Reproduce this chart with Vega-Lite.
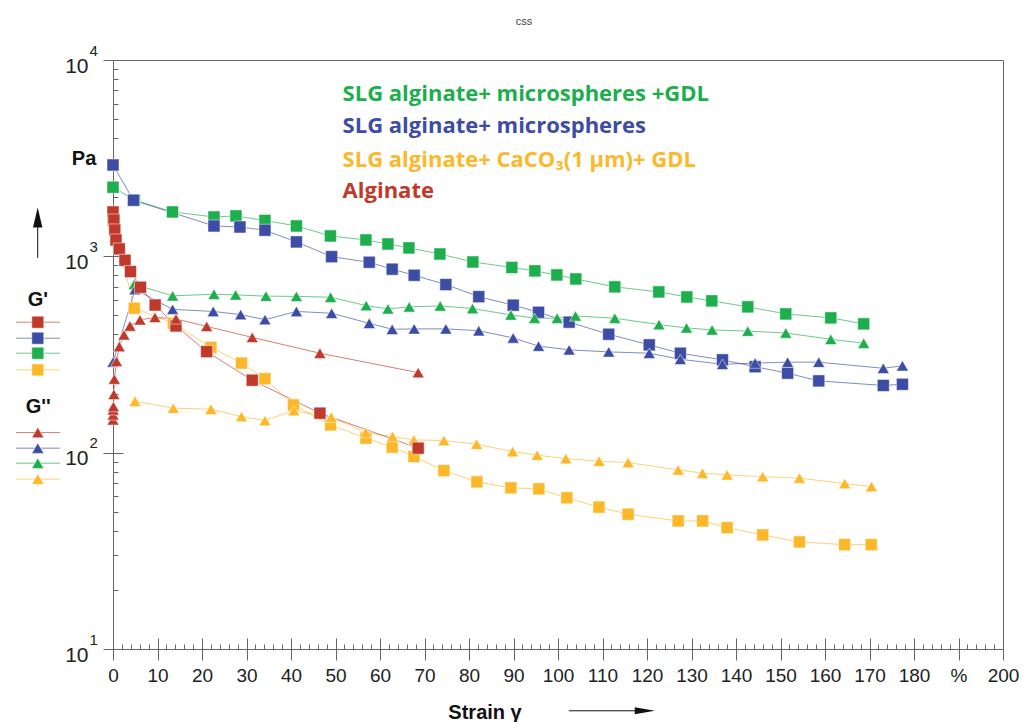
{
  "$schema": "https://vega.github.io/schema/vega-lite/v6.json",
  "width": 890,
  "height": 589,
  "autosize": {"type": "none"},
  "padding": {"left": 113, "top": 60, "right": 31, "bottom": 73},
  "background": "white",
  "title": {"text": "css", "fontSize": 11, "font": "Liberation Sans", "fontWeight": "normal", "color": "#444", "anchor": "middle", "frame": "group", "dx": -34, "offset": 7, "baseline": "alphabetic"},
  "config": {
    "view": {"stroke": "#666", "strokeWidth": 1},
    "axis": {"domainColor": "#666", "tickColor": "#666", "grid": false, "title": null, "labelFont": "Liberation Sans", "labelColor": "#222", "labelFlush": false, "labelOverlap": false, "labelBound": false, "domainWidth": 1, "tickWidth": 1}
  },
  "datasets": {
    "main": [
      {"s": "SLG+micro+GDL", "k": "G'", "x": 0, "y": 2249}, {"s": "SLG+micro+GDL", "k": "G'", "x": 4.83, "y": 1937}, {"s": "SLG+micro+GDL", "k": "G'", "x": 13.37, "y": 1683}, {"s": "SLG+micro+GDL", "k": "G'", "x": 22.69, "y": 1587}, {"s": "SLG+micro+GDL", "k": "G'", "x": 27.63, "y": 1606}, {"s": "SLG+micro+GDL", "k": "G'", "x": 34.15, "y": 1523}, {"s": "SLG+micro+GDL", "k": "G'", "x": 41.22, "y": 1428}, {"s": "SLG+micro+GDL", "k": "G'", "x": 48.86, "y": 1270}, {"s": "SLG+micro+GDL", "k": "G'", "x": 56.83, "y": 1212}, {"s": "SLG+micro+GDL", "k": "G'", "x": 61.78, "y": 1156}, {"s": "SLG+micro+GDL", "k": "G'", "x": 66.5, "y": 1104}, {"s": "SLG+micro+GDL", "k": "G'", "x": 73.46, "y": 1028}, {"s": "SLG+micro+GDL", "k": "G'", "x": 80.87, "y": 936}, {"s": "SLG+micro+GDL", "k": "G'", "x": 89.63, "y": 878}, {"s": "SLG+micro+GDL", "k": "G'", "x": 94.8, "y": 843}, {"s": "SLG+micro+GDL", "k": "G'", "x": 99.74, "y": 804}, {"s": "SLG+micro+GDL", "k": "G'", "x": 104.0, "y": 767}, {"s": "SLG+micro+GDL", "k": "G'", "x": 112.77, "y": 699}, {"s": "SLG+micro+GDL", "k": "G'", "x": 122.65, "y": 659}, {"s": "SLG+micro+GDL", "k": "G'", "x": 128.95, "y": 621}, {"s": "SLG+micro+GDL", "k": "G'", "x": 134.56, "y": 593}, {"s": "SLG+micro+GDL", "k": "G'", "x": 142.65, "y": 553}, {"s": "SLG+micro+GDL", "k": "G'", "x": 151.18, "y": 509}, {"s": "SLG+micro+GDL", "k": "G'", "x": 161.3, "y": 486}, {"s": "SLG+micro+GDL", "k": "G'", "x": 168.7, "y": 453},

      {"s": "SLG+micro", "k": "G'", "x": 0, "y": 2920}, {"s": "SLG+micro", "k": "G'", "x": 4.6, "y": 1930}, {"s": "SLG+micro", "k": "G'", "x": 22.69, "y": 1428}, {"s": "SLG+micro", "k": "G'", "x": 28.53, "y": 1411}, {"s": "SLG+micro", "k": "G'", "x": 34.15, "y": 1358}, {"s": "SLG+micro", "k": "G'", "x": 41.22, "y": 1184}, {"s": "SLG+micro", "k": "G'", "x": 49.13, "y": 996}, {"s": "SLG+micro", "k": "G'", "x": 57.58, "y": 933}, {"s": "SLG+micro", "k": "G'", "x": 62.74, "y": 860}, {"s": "SLG+micro", "k": "G'", "x": 67.68, "y": 801}, {"s": "SLG+micro", "k": "G'", "x": 74.8, "y": 718}, {"s": "SLG+micro", "k": "G'", "x": 82.2, "y": 623}, {"s": "SLG+micro", "k": "G'", "x": 89.93, "y": 564}, {"s": "SLG+micro", "k": "G'", "x": 95.63, "y": 519}, {"s": "SLG+micro", "k": "G'", "x": 102.5, "y": 462}, {"s": "SLG+micro", "k": "G'", "x": 111.4, "y": 401}, {"s": "SLG+micro", "k": "G'", "x": 120.5, "y": 354}, {"s": "SLG+micro", "k": "G'", "x": 127.5, "y": 321}, {"s": "SLG+micro", "k": "G'", "x": 136.96, "y": 297}, {"s": "SLG+micro", "k": "G'", "x": 144.3, "y": 274}, {"s": "SLG+micro", "k": "G'", "x": 151.6, "y": 254}, {"s": "SLG+micro", "k": "G'", "x": 158.6, "y": 232}, {"s": "SLG+micro", "k": "G'", "x": 173.1, "y": 220}, {"s": "SLG+micro", "k": "G'", "x": 177.4, "y": 223},

      {"s": "SLG+micro+GDL", "k": "G''", "x": 4.78, "y": 721}, {"s": "SLG+micro+GDL", "k": "G''", "x": 13.41, "y": 629}, {"s": "SLG+micro+GDL", "k": "G''", "x": 22.69, "y": 641}, {"s": "SLG+micro+GDL", "k": "G''", "x": 27.56, "y": 636}, {"s": "SLG+micro+GDL", "k": "G''", "x": 34.37, "y": 627}, {"s": "SLG+micro+GDL", "k": "G''", "x": 41.22, "y": 625}, {"s": "SLG+micro+GDL", "k": "G''", "x": 48.9, "y": 619}, {"s": "SLG+micro+GDL", "k": "G''", "x": 56.9, "y": 561}, {"s": "SLG+micro+GDL", "k": "G''", "x": 61.78, "y": 540}, {"s": "SLG+micro+GDL", "k": "G''", "x": 66.56, "y": 553}, {"s": "SLG+micro+GDL", "k": "G''", "x": 73.53, "y": 559}, {"s": "SLG+micro+GDL", "k": "G''", "x": 80.8, "y": 542}, {"s": "SLG+micro+GDL", "k": "G''", "x": 89.41, "y": 503}, {"s": "SLG+micro+GDL", "k": "G''", "x": 94.73, "y": 484}, {"s": "SLG+micro+GDL", "k": "G''", "x": 99.81, "y": 484}, {"s": "SLG+micro+GDL", "k": "G''", "x": 103.94, "y": 497}, {"s": "SLG+micro+GDL", "k": "G''", "x": 112.77, "y": 484}, {"s": "SLG+micro+GDL", "k": "G''", "x": 122.7, "y": 449}, {"s": "SLG+micro+GDL", "k": "G''", "x": 128.88, "y": 432}, {"s": "SLG+micro+GDL", "k": "G''", "x": 134.63, "y": 422}, {"s": "SLG+micro+GDL", "k": "G''", "x": 142.65, "y": 416}, {"s": "SLG+micro+GDL", "k": "G''", "x": 151.19, "y": 407}, {"s": "SLG+micro+GDL", "k": "G''", "x": 161.3, "y": 378}, {"s": "SLG+micro+GDL", "k": "G''", "x": 168.7, "y": 361},

      {"s": "SLG+micro", "k": "G''", "x": 0, "y": 289}, {"s": "SLG+micro", "k": "G''", "x": 4.94, "y": 678}, {"s": "SLG+micro", "k": "G''", "x": 13.41, "y": 537}, {"s": "SLG+micro", "k": "G''", "x": 22.53, "y": 524}, {"s": "SLG+micro", "k": "G''", "x": 28.69, "y": 505}, {"s": "SLG+micro", "k": "G''", "x": 34.15, "y": 476}, {"s": "SLG+micro", "k": "G''", "x": 41.22, "y": 524}, {"s": "SLG+micro", "k": "G''", "x": 49.13, "y": 513}, {"s": "SLG+micro", "k": "G''", "x": 57.58, "y": 456}, {"s": "SLG+micro", "k": "G''", "x": 62.74, "y": 425}, {"s": "SLG+micro", "k": "G''", "x": 67.68, "y": 427}, {"s": "SLG+micro", "k": "G''", "x": 74.8, "y": 427}, {"s": "SLG+micro", "k": "G''", "x": 82.2, "y": 418}, {"s": "SLG+micro", "k": "G''", "x": 89.93, "y": 384}, {"s": "SLG+micro", "k": "G''", "x": 95.63, "y": 349}, {"s": "SLG+micro", "k": "G''", "x": 102.5, "y": 334}, {"s": "SLG+micro", "k": "G''", "x": 111.4, "y": 326}, {"s": "SLG+micro", "k": "G''", "x": 120.5, "y": 321}, {"s": "SLG+micro", "k": "G''", "x": 127.5, "y": 299}, {"s": "SLG+micro", "k": "G''", "x": 136.96, "y": 282}, {"s": "SLG+micro", "k": "G''", "x": 144.3, "y": 286}, {"s": "SLG+micro", "k": "G''", "x": 151.6, "y": 289}, {"s": "SLG+micro", "k": "G''", "x": 158.6, "y": 289}, {"s": "SLG+micro", "k": "G''", "x": 173.1, "y": 269}, {"s": "SLG+micro", "k": "G''", "x": 177.4, "y": 277},

      {"s": "SLG+CaCO3+GDL", "k": "G'", "x": 0, "y": 1514}, {"s": "SLG+CaCO3+GDL", "k": "G'", "x": 4.78, "y": 544}, {"s": "SLG+CaCO3+GDL", "k": "G'", "x": 13.55, "y": 456}, {"s": "SLG+CaCO3+GDL", "k": "G'", "x": 22.0, "y": 344}, {"s": "SLG+CaCO3+GDL", "k": "G'", "x": 28.87, "y": 286}, {"s": "SLG+CaCO3+GDL", "k": "G'", "x": 34.15, "y": 238}, {"s": "SLG+CaCO3+GDL", "k": "G'", "x": 40.55, "y": 175}, {"s": "SLG+CaCO3+GDL", "k": "G'", "x": 48.9, "y": 138.5}, {"s": "SLG+CaCO3+GDL", "k": "G'", "x": 56.83, "y": 118.6}, {"s": "SLG+CaCO3+GDL", "k": "G'", "x": 62.74, "y": 106.7}, {"s": "SLG+CaCO3+GDL", "k": "G'", "x": 67.62, "y": 95.5}, {"s": "SLG+CaCO3+GDL", "k": "G'", "x": 74.36, "y": 81}, {"s": "SLG+CaCO3+GDL", "k": "G'", "x": 81.77, "y": 71}, {"s": "SLG+CaCO3+GDL", "k": "G'", "x": 89.41, "y": 66.2}, {"s": "SLG+CaCO3+GDL", "k": "G'", "x": 95.7, "y": 65.4}, {"s": "SLG+CaCO3+GDL", "k": "G'", "x": 101.99, "y": 58.9}, {"s": "SLG+CaCO3+GDL", "k": "G'", "x": 109.2, "y": 52.8}, {"s": "SLG+CaCO3+GDL", "k": "G'", "x": 115.76, "y": 48.6}, {"s": "SLG+CaCO3+GDL", "k": "G'", "x": 127.0, "y": 44.9}, {"s": "SLG+CaCO3+GDL", "k": "G'", "x": 132.5, "y": 44.9}, {"s": "SLG+CaCO3+GDL", "k": "G'", "x": 138.0, "y": 41.5}, {"s": "SLG+CaCO3+GDL", "k": "G'", "x": 146.0, "y": 38.1}, {"s": "SLG+CaCO3+GDL", "k": "G'", "x": 154.26, "y": 35.1}, {"s": "SLG+CaCO3+GDL", "k": "G'", "x": 164.4, "y": 34.0}, {"s": "SLG+CaCO3+GDL", "k": "G'", "x": 170.4, "y": 34.0},

      {"s": "SLG+CaCO3+GDL", "k": "G''", "x": 4.94, "y": 182.9}, {"s": "SLG+CaCO3+GDL", "k": "G''", "x": 13.55, "y": 168.5}, {"s": "SLG+CaCO3+GDL", "k": "G''", "x": 22.0, "y": 166.5}, {"s": "SLG+CaCO3+GDL", "k": "G''", "x": 28.87, "y": 152.7}, {"s": "SLG+CaCO3+GDL", "k": "G''", "x": 34.15, "y": 145.7}, {"s": "SLG+CaCO3+GDL", "k": "G''", "x": 40.66, "y": 163.8}, {"s": "SLG+CaCO3+GDL", "k": "G''", "x": 49.04, "y": 151.6}, {"s": "SLG+CaCO3+GDL", "k": "G''", "x": 56.83, "y": 126.6}, {"s": "SLG+CaCO3+GDL", "k": "G''", "x": 62.83, "y": 120.8}, {"s": "SLG+CaCO3+GDL", "k": "G''", "x": 67.62, "y": 116.2}, {"s": "SLG+CaCO3+GDL", "k": "G''", "x": 74.36, "y": 115.2}, {"s": "SLG+CaCO3+GDL", "k": "G''", "x": 81.7, "y": 110.5}, {"s": "SLG+CaCO3+GDL", "k": "G''", "x": 89.79, "y": 101.3}, {"s": "SLG+CaCO3+GDL", "k": "G''", "x": 95.32, "y": 97.1}, {"s": "SLG+CaCO3+GDL", "k": "G''", "x": 101.76, "y": 93.3}, {"s": "SLG+CaCO3+GDL", "k": "G''", "x": 109.24, "y": 90.5}, {"s": "SLG+CaCO3+GDL", "k": "G''", "x": 115.76, "y": 89.0}, {"s": "SLG+CaCO3+GDL", "k": "G''", "x": 127.0, "y": 81.7}, {"s": "SLG+CaCO3+GDL", "k": "G''", "x": 132.47, "y": 78.6}, {"s": "SLG+CaCO3+GDL", "k": "G''", "x": 138.0, "y": 77.1}, {"s": "SLG+CaCO3+GDL", "k": "G''", "x": 146.0, "y": 75.5}, {"s": "SLG+CaCO3+GDL", "k": "G''", "x": 154.26, "y": 74.2}, {"s": "SLG+CaCO3+GDL", "k": "G''", "x": 164.44, "y": 69.6}, {"s": "SLG+CaCO3+GDL", "k": "G''", "x": 170.44, "y": 67.2},

      {"s": "Alginate", "k": "G'", "x": 0, "y": 1683}, {"s": "Alginate", "k": "G'", "x": 0.2, "y": 1532}, {"s": "Alginate", "k": "G'", "x": 0.4, "y": 1363}, {"s": "Alginate", "k": "G'", "x": 0.67, "y": 1212}, {"s": "Alginate", "k": "G'", "x": 1.42, "y": 1091}, {"s": "Alginate", "k": "G'", "x": 2.7, "y": 955}, {"s": "Alginate", "k": "G'", "x": 3.93, "y": 836}, {"s": "Alginate", "k": "G'", "x": 6.18, "y": 696}, {"s": "Alginate", "k": "G'", "x": 9.48, "y": 565}, {"s": "Alginate", "k": "G'", "x": 14.15, "y": 442}, {"s": "Alginate", "k": "G'", "x": 21.05, "y": 327}, {"s": "Alginate", "k": "G'", "x": 31.29, "y": 234}, {"s": "Alginate", "k": "G'", "x": 46.5, "y": 158.9}, {"s": "Alginate", "k": "G'", "x": 68.58, "y": 105.4},

      {"s": "Alginate", "k": "G''", "x": 0, "y": 146.9}, {"s": "Alginate", "k": "G''", "x": 0.02, "y": 155.8}, {"s": "Alginate", "k": "G''", "x": 0.05, "y": 165.2}, {"s": "Alginate", "k": "G''", "x": 0.1, "y": 171.7}, {"s": "Alginate", "k": "G''", "x": 0.2, "y": 198.1}, {"s": "Alginate", "k": "G''", "x": 0.3, "y": 237}, {"s": "Alginate", "k": "G''", "x": 0.79, "y": 291.7}, {"s": "Alginate", "k": "G''", "x": 1.42, "y": 346.9}, {"s": "Alginate", "k": "G''", "x": 2.47, "y": 398}, {"s": "Alginate", "k": "G''", "x": 3.82, "y": 442}, {"s": "Alginate", "k": "G''", "x": 6.07, "y": 474.6}, {"s": "Alginate", "k": "G''", "x": 9.43, "y": 488.7}, {"s": "Alginate", "k": "G''", "x": 14.15, "y": 480.2}, {"s": "Alginate", "k": "G''", "x": 21.05, "y": 439.6}, {"s": "Alginate", "k": "G''", "x": 31.29, "y": 386.5}, {"s": "Alginate", "k": "G''", "x": 46.5, "y": 321}, {"s": "Alginate", "k": "G''", "x": 68.58, "y": 255.7}
    ],
    "leg": [
      {"s": "Alginate", "k": "G'", "x": -21.8, "y": 461.8, "p": "end"}, {"s": "Alginate", "k": "G'", "x": -11.9, "y": 461.8, "p": "end"}, {"s": "Alginate", "k": "G'", "x": -16.9, "y": 461.8, "p": "mid"},
      {"s": "SLG+micro", "k": "G'", "x": -21.8, "y": 382.8, "p": "end"}, {"s": "SLG+micro", "k": "G'", "x": -11.9, "y": 382.8, "p": "end"}, {"s": "SLG+micro", "k": "G'", "x": -16.9, "y": 382.8, "p": "mid"},
      {"s": "SLG+micro+GDL", "k": "G'", "x": -21.8, "y": 321.1, "p": "end"}, {"s": "SLG+micro+GDL", "k": "G'", "x": -11.9, "y": 321.1, "p": "end"}, {"s": "SLG+micro+GDL", "k": "G'", "x": -16.9, "y": 321.1, "p": "mid"},
      {"s": "SLG+CaCO3+GDL", "k": "G'", "x": -21.8, "y": 264, "p": "end"}, {"s": "SLG+CaCO3+GDL", "k": "G'", "x": -11.9, "y": 264, "p": "end"}, {"s": "SLG+CaCO3+GDL", "k": "G'", "x": -16.9, "y": 264, "p": "mid"},
      {"s": "Alginate", "k": "G''", "x": -21.8, "y": 126.6, "p": "end"}, {"s": "Alginate", "k": "G''", "x": -11.9, "y": 126.6, "p": "end"}, {"s": "Alginate", "k": "G''", "x": -16.9, "y": 126.6, "p": "mid"},
      {"s": "SLG+micro", "k": "G''", "x": -21.8, "y": 105.4, "p": "end"}, {"s": "SLG+micro", "k": "G''", "x": -11.9, "y": 105.4, "p": "end"}, {"s": "SLG+micro", "k": "G''", "x": -16.9, "y": 105.4, "p": "mid"},
      {"s": "SLG+micro+GDL", "k": "G''", "x": -21.8, "y": 88.4, "p": "end"}, {"s": "SLG+micro+GDL", "k": "G''", "x": -11.9, "y": 88.4, "p": "end"}, {"s": "SLG+micro+GDL", "k": "G''", "x": -16.9, "y": 88.4, "p": "mid"},
      {"s": "SLG+CaCO3+GDL", "k": "G''", "x": -21.8, "y": 73.3, "p": "end"}, {"s": "SLG+CaCO3+GDL", "k": "G''", "x": -11.9, "y": 73.3, "p": "end"}, {"s": "SLG+CaCO3+GDL", "k": "G''", "x": -16.9, "y": 73.3, "p": "mid"}
    ],
    "ctext": [
      {"s": "SLG+micro+GDL", "label": "SLG alginate+ microspheres +GDL", "x": 51.6, "y": 6182},
      {"s": "SLG+micro", "label": "SLG alginate+ microspheres", "x": 51.6, "y": 4249},
      {"s": "SLG+CaCO3+GDL", "label": "SLG alginate+ CaCO₃(1 µm)+ GDL", "x": 51.6, "y": 2862},
      {"s": "Alginate", "label": "Alginate", "x": 51.6, "y": 1983}
    ],
    "btext": [
      {"label": "Pa", "x": -6.5, "y": 2920},
      {"label": "G'", "x": -16.9, "y": 559},
      {"label": "G''", "x": -16.8, "y": 159.4},
      {"label": "Strain γ", "x": 83.6, "y": 4.413}
    ],
    "arrows": [
      {"dir": "up", "x": -16.92, "x2": -16.92, "y": 981.5, "y2": 1428, "hx": -16.92, "hy": 1578},
      {"dir": "right", "x": 102.44, "x2": 118.4, "y": 4.845, "y2": 4.845, "hx": 119.5, "hy": 4.845}
    ]
  },
  "layer": [
    {
      "data": {"name": "main"},
      "mark": {"type": "line", "strokeWidth": 1, "opacity": 0.65},
      "encoding": {
        "x": {"field": "x", "type": "quantitative", "scale": {"domain": [0, 200], "nice": false, "zero": false},
          "axis": {"orient": "bottom", "values": [0,10,20,30,40,50,60,70,80,90,100,110,120,130,140,150,160,170,180,190,200], "tickSize": 11, "labelFontSize": 19, "labelPadding": 6, "labelExpr": "datum.value == 190 ? '%' : datum.label"}},
        "y": {"field": "y", "type": "quantitative", "scale": {"type": "log", "domain": [10, 10000], "nice": false},
          "axis": {"orient": "left", "values": [10, 100, 1000, 10000], "tickSize": 10, "labelExpr": "'10'", "labelFontSize": 21, "labelPadding": 15, "labelBaseline": "middle", "labelOffset": 6}},
        "color": {"field": "s", "type": "nominal", "legend": null,
          "scale": {"domain": ["Alginate", "SLG+micro", "SLG+micro+GDL", "SLG+CaCO3+GDL"], "range": ["#C0392B", "#3D4DA6", "#1DAE4D", "#FDB82A"]}},
        "detail": {"field": "k"}
      }
    },
    {
      "data": {"name": "main"},
      "mark": {"type": "point", "filled": true, "size": 144, "opacity": 1, "stroke": "white", "strokeWidth": 0.5},
      "encoding": {
        "x": {"field": "x", "type": "quantitative",
          "axis": {"orient": "bottom", "values": [0,10,20,30,40,50,60,70,80,90,100,110,120,130,140,150,160,170,180,190,200], "tickSize": -11, "labels": false, "domain": false}},
        "y": {"field": "y", "type": "quantitative",
          "axis": {"orient": "left", "values": [10, 100, 1000, 10000], "tickSize": -10, "labels": false, "domain": false}},
        "color": {"field": "s", "type": "nominal", "legend": null},
        "shape": {"field": "k", "type": "nominal", "legend": null, "scale": {"domain": ["G'", "G''"], "range": ["square", "triangle-up"]}}
      }
    },
    {
      "data": {"name": "leg"},
      "transform": [{"filter": "datum.p == 'end'"}],
      "mark": {"type": "line", "strokeWidth": 1, "opacity": 0.65},
      "encoding": {
        "x": {"field": "x", "type": "quantitative",
          "axis": {"orient": "bottom", "values": [0,2,4,6,8,10,12,14,16,18,20,22,24,26,28,30,32,34,36,38,40,42,44,46,48,50,52,54,56,58,60,62,64,66,68,70,72,74,76,78,80,82,84,86,88,90,92,94,96,98,100,102,104,106,108,110,112,114,116,118,120,122,124,126,128,130,132,134,136,138,140,142,144,146,148,150,152,154,156,158,160,162,164,166,168,170,172,174,176,178,180,182,184,186,188,190,192,194,196,198,200], "tickSize": -5, "labels": false, "domain": false}},
        "y": {"field": "y", "type": "quantitative",
          "axis": {"orient": "left", "values": [20,30,40,50,60,70,80,90,200,300,400,500,600,700,800,900,2000,3000,4000,5000,6000,7000,8000,9000], "tickSize": -5, "labels": false, "domain": false}},
        "color": {"field": "s", "type": "nominal", "legend": null},
        "detail": {"field": "k"}
      }
    },
    {
      "data": {"name": "leg"},
      "transform": [{"filter": "datum.p == 'mid'"}],
      "mark": {"type": "point", "filled": true, "size": 144, "opacity": 1, "stroke": "white", "strokeWidth": 0.5},
      "encoding": {
        "x": {"field": "x", "type": "quantitative", "axis": null},
        "y": {"field": "y", "type": "quantitative",
          "axis": {"orient": "left", "values": [10, 100, 1000, 10000], "ticks": false, "tickSize": 0, "domain": false, "labelExpr": "datum.value == 10 ? '1' : datum.value == 100 ? '2' : datum.value == 1000 ? '3' : '4'", "labelAlign": "left", "labelPadding": 24, "labelFontSize": 15, "labelOffset": -10, "labelBaseline": "middle"}},
        "color": {"field": "s", "type": "nominal", "legend": null},
        "shape": {"field": "k", "type": "nominal", "legend": null}
      }
    },
    {
      "data": {"name": "ctext"},
      "mark": {"type": "text", "align": "left", "baseline": "alphabetic", "font": "Open Sans", "fontWeight": "bold", "fontSize": 22},
      "encoding": {
        "x": {"field": "x", "type": "quantitative", "axis": null},
        "y": {"field": "y", "type": "quantitative", "axis": null},
        "text": {"field": "label"},
        "color": {"field": "s", "type": "nominal", "legend": null}
      }
    },
    {
      "data": {"name": "btext"},
      "mark": {"type": "text", "align": "center", "baseline": "alphabetic", "font": "Liberation Sans", "fontWeight": "bold", "fontSize": 20, "color": "#111"},
      "encoding": {
        "x": {"field": "x", "type": "quantitative", "axis": null},
        "y": {"field": "y", "type": "quantitative", "axis": null},
        "text": {"field": "label"}
      }
    },
    {
      "data": {"name": "arrows"},
      "mark": {"type": "rule", "color": "#111", "strokeWidth": 1},
      "encoding": {
        "x": {"field": "x", "type": "quantitative", "axis": null},
        "x2": {"field": "x2"},
        "y": {"field": "y", "type": "quantitative", "axis": null},
        "y2": {"field": "y2"}
      }
    },
    {
      "data": {"name": "arrows"},
      "transform": [{"filter": "datum.dir == 'up'"}],
      "mark": {"type": "point", "filled": true, "color": "#111", "size": 400, "opacity": 1, "shape": "M0,-1L0.47,1L-0.47,1Z"},
      "encoding": {
        "x": {"field": "hx", "type": "quantitative", "axis": null},
        "y": {"field": "hy", "type": "quantitative", "axis": null}
      }
    },
    {
      "data": {"name": "arrows"},
      "transform": [{"filter": "datum.dir == 'right'"}],
      "mark": {"type": "point", "filled": true, "color": "#111", "size": 400, "opacity": 1, "shape": "M1,0L-1,0.35L-1,-0.35Z"},
      "encoding": {
        "x": {"field": "hx", "type": "quantitative", "axis": null},
        "y": {"field": "hy", "type": "quantitative", "axis": null}
      }
    }
  ],
  "resolve": {"axis": {"x": "independent", "y": "independent"}}
}
